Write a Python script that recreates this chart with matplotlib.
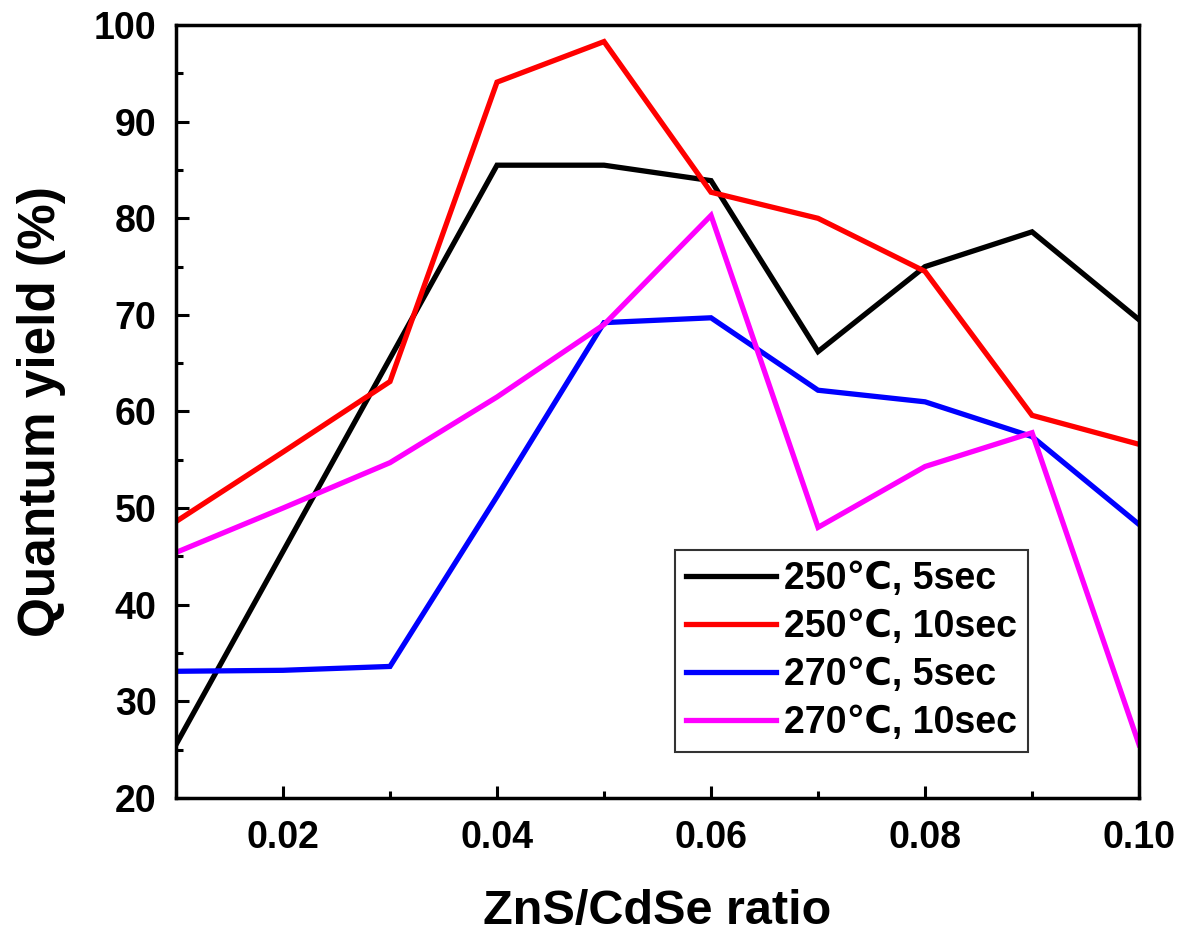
import matplotlib
matplotlib.use('Agg')
import matplotlib.pyplot as plt
from matplotlib.ticker import MultipleLocator

plt.rcParams['font.family'] = ['Liberation Sans', 'DejaVu Sans']
plt.rcParams['font.weight'] = 'bold'

# ----------- data -----------
ratio = [0.01, 0.02, 0.03, 0.04, 0.05, 0.06, 0.07, 0.08, 0.09, 0.10]
qy_250_5 = [25.5, 45.5, 65.5, 85.5, 85.5, 83.9, 66.2, 75.0, 78.6, 69.5]
qy_250_10 = [48.6, 55.8, 63.1, 94.1, 98.3, 82.7, 80.0, 74.5, 59.6, 56.6]
qy_270_5 = [33.1, 33.2, 33.6, 51.2, 69.2, 69.7, 62.2, 61.0, 57.4, 48.3]
qy_270_10 = [45.4, 50.0, 54.7, 61.5, 69.0, 80.3, 48.0, 54.3, 57.8, 25.5]
labels = ['250\u2103, 5sec', '250\u2103, 10sec', '270\u2103, 5sec', '270\u2103, 10sec']
colors = ['#000000', '#ff0000', '#0000ff', '#ff00ff']

fig = plt.figure(figsize=(11.81, 9.32), dpi=100)
ax = fig.add_axes([0.149, 0.144, 0.8155, 0.829])

for ys, lab, c in zip([qy_250_5, qy_250_10, qy_270_5, qy_270_10], labels, colors):
    ax.plot(ratio, ys, color=c, linewidth=3.8, label=lab, solid_joinstyle='miter')

ax.set_xlim(0.01, 0.10)
ax.set_ylim(20, 100)
ax.xaxis.set_minor_locator(MultipleLocator(0.01))
ax.yaxis.set_major_locator(MultipleLocator(10))
ax.yaxis.set_minor_locator(MultipleLocator(5))
ax.set_xticks([0.02, 0.04, 0.06, 0.08, 0.10])
ax.set_xticklabels(['0.02', '0.04', '0.06', '0.08', '0.10'])

ax.tick_params(which='both', direction='in', top=False, right=False, width=2.2)
ax.tick_params(which='major', length=9, labelsize=27)
ax.tick_params(axis='x', which='major', pad=16)
ax.tick_params(axis='y', which='major', pad=14)
ax.tick_params(which='minor', length=5)
for lbl in ax.get_xticklabels() + ax.get_yticklabels():
    lbl.set_fontweight('bold')
for sp in ax.spines.values():
    sp.set_linewidth(2.5)

ax.set_xlabel('ZnS/CdSe ratio', fontsize=35, fontweight='bold', labelpad=24)
ax.set_ylabel('Quantum yield (%)', fontsize=37, fontweight='bold', labelpad=20)

leg = ax.legend(loc='upper left', bbox_to_anchor=(0.518, 0.321), borderaxespad=0,
                frameon=True, fancybox=False, edgecolor='black',
                handlelength=2.4, handletextpad=0.2, borderpad=0.3,
                labelspacing=0.32, prop={'weight': 'bold', 'size': 27})
leg.get_frame().set_linewidth(1.5)

fig.savefig('out.png', dpi=100)
